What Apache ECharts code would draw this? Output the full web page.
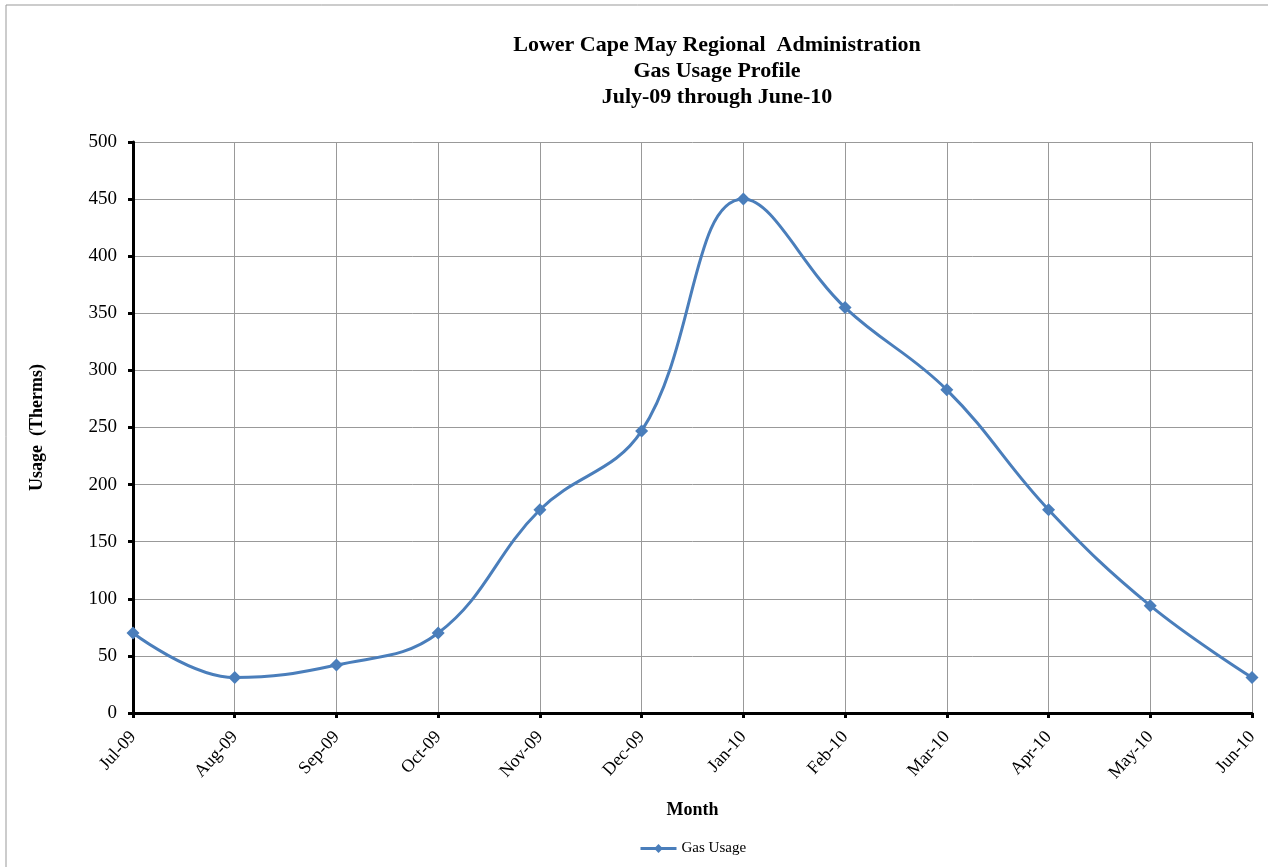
<!DOCTYPE html>
<html>
<head>
<meta charset="utf-8">
<script src="https://cdn.jsdelivr.net/npm/echarts@6/dist/echarts.min.js"></script>
<style>
html, body { margin: 0; padding: 0; background: #fff; }
#chart { width: 1268px; height: 867px; }
</style>
</head>
<body>
<div id="chart"></div>
<script>
// months along the x axis
var months = ['Jul-09', 'Aug-09', 'Sep-09', 'Oct-09', 'Nov-09', 'Dec-09',
              'Jan-10', 'Feb-10', 'Mar-10', 'Apr-10', 'May-10', 'Jun-10'];
// therms used each month
var gasUsage = [70, 31, 42, 70, 178, 247, 450, 355, 283, 178, 94, 31];

var serif = '"Liberation Serif", "Times New Roman", serif';

var option_gas = {
    animation: false,
    backgroundColor: '#fff',
    textStyle: { fontFamily: serif },
    title: {
        text: 'Lower Cape May Regional  Administration\nGas Usage Profile\nJuly-09 through June-10',
        left: 712,
        top: 27,
        textAlign: 'center',
        textStyle: {
            fontFamily: serif,
            fontSize: 22,
            fontWeight: 'bold',
            color: '#000',
            lineHeight: 26
        }
    },
    legend: {
        data: ['Gas Usage'],
        left: 634,
        bottom: 6,
        itemWidth: 36,
        itemHeight: 11,
        itemGap: 6,
        lineStyle: { width: 3 },
        textStyle: { fontFamily: serif, fontSize: 15, color: '#000' }
    },
    grid: {
        left: 133,
        top: 142,
        right: 16,
        bottom: 154
    },
    xAxis: {
        type: 'category',
        boundaryGap: false,
        data: months,
        name: 'Month',
        nameLocation: 'middle',
        nameGap: 88,
        nameTextStyle: { fontFamily: serif, fontSize: 18, fontWeight: 'bold', color: '#000' },
        axisLine: { lineStyle: { color: '#000', width: 3 } },
        axisTick: { show: true, alignWithLabel: true, length: 5, lineStyle: { color: '#000', width: 3 } },
        axisLabel: { rotate: 48, fontSize: 18, color: '#000', margin: 21, interval: 0 },
        splitLine: { show: true, lineStyle: { color: '#999', width: 1 } }
    },
    yAxis: {
        type: 'value',
        min: 0,
        max: 500,
        interval: 50,
        name: 'Usage  (Therms)',
        nameLocation: 'middle',
        nameGap: 87,
        nameTextStyle: { fontFamily: serif, fontSize: 18, fontWeight: 'bold', color: '#000' },
        axisLine: { show: true, lineStyle: { color: '#000', width: 3 } },
        axisTick: { show: true, length: 5, lineStyle: { color: '#000', width: 3 } },
        axisLabel: { fontSize: 19, color: '#000', margin: 16 },
        splitLine: { show: true, lineStyle: { color: '#999', width: 1 } }
    },
    graphic: [{
        type: 'rect',
        shape: { x: 6, y: 5, width: 1300, height: 900 },
        style: { fill: 'none', stroke: '#999', lineWidth: 1 },
        silent: true
    }],
    series: [{
        name: 'Gas Usage',
        type: 'line',
        data: gasUsage,
        smooth: 0.4,
        symbol: 'diamond',
        symbolSize: 13,
        itemStyle: { color: '#4a7ebb' },
        lineStyle: { color: '#4a7ebb', width: 3 }
    }]
};

var gasChart = echarts.init(document.getElementById('chart'));
gasChart.setOption(option_gas, true);
</script>
</body>
</html>
